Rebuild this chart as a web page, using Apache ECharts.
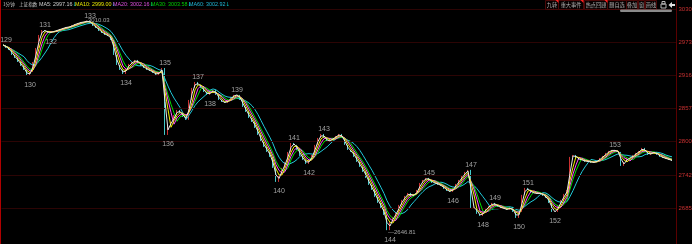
<!DOCTYPE html>
<html><head><meta charset="utf-8">
<script src="https://cdn.jsdelivr.net/npm/echarts@6/dist/echarts.min.js"></script>
<style>html,body{margin:0;padding:0;background:#000;}#c{width:692px;height:244px;}</style>
</head><body><div id="c"></div>
<script>
// ---- data ----
const closes = [
2967.7,2962.5,2959.0,2950.3,2945.1,2938.2,2931.3,2924.4,2914.0,2920.9,
2938.2,2962.5,2985.0,2993.6,2991.9,2988.4,2990.2,2991.9,2993.6,2995.4,
2997.1,2998.8,2998.8,3002.3,3004.0,3005.8,3007.5,3007.5,3010.0,3005.8,
3000.6,2997.1,2991.9,2988.4,2985.0,2983.2,2976.3,2950.3,2933.0,2924.4,
2917.4,2927.8,2934.8,2938.2,2941.7,2936.5,2931.3,2927.8,2924.4,2922.6,
2919.2,2915.7,2920.9,2927.8,2811.8,2829.1,2834.3,2846.4,2855.1,2849.9,
2843.0,2837.8,2872.4,2893.2,2903.6,2898.4,2893.2,2886.3,2881.1,2886.3,
2889.7,2881.1,2872.4,2868.9,2867.2,2872.4,2877.6,2881.1,2881.1,2872.4,
2860.3,2851.6,2841.2,2834.3,2823.9,2811.8,2799.7,2791.0,2782.3,2773.7,
2754.6,2730.4,2742.5,2754.6,2765.0,2782.3,2797.9,2794.5,2785.8,2775.4,
2768.5,2761.6,2768.5,2777.1,2794.5,2806.6,2813.5,2806.6,2799.7,2803.1,
2806.6,2810.0,2813.5,2806.6,2794.5,2785.8,2782.3,2773.7,2765.0,2756.4,
2747.7,2737.3,2725.2,2716.5,2704.4,2694.0,2685.3,2673.2,2646.8,2661.1,
2669.8,2678.4,2690.5,2699.2,2706.1,2711.3,2706.1,2707.9,2716.5,2728.6,
2733.8,2737.3,2733.8,2728.6,2728.6,2725.2,2723.4,2718.3,2714.8,2713.1,
2720.0,2726.9,2733.8,2740.8,2747.7,2751.2,2685.3,2687.1,2675.0,2671.5,
2678.4,2685.3,2688.8,2694.0,2690.5,2687.1,2685.3,2683.6,2681.9,2687.1,
2678.4,2668.0,2678.4,2707.9,2720.0,2716.5,2711.3,2711.3,2709.6,2711.3,
2706.1,2702.7,2694.0,2678.4,2678.4,2690.5,2699.2,2709.6,2716.5,2773.7,
2777.1,2771.9,2768.5,2768.5,2765.0,2766.7,2763.3,2765.0,2766.7,2771.9,
2775.4,2780.6,2784.1,2785.8,2784.1,2782.3,2758.1,2765.0,2771.9,2771.9,
2777.1,2780.6,2784.1,2789.3,2782.3,2777.1,2780.6,2782.3,2777.1,2773.7,
2771.9,2770.2,2768.5,2766.7
];
const categories = closes.map((_, i) => String(i)).concat(['']);
const waveNames = ['129','130','131','132','133','134','135','136','137','138','139','140','141','142','143','144','145','146','147','148','149','150','151','152','153'];
const waveIdx   = [0,8,13,15,28,40,53,54,64,68,77,91,96,101,106,128,141,149,155,159,163,171,174,183,203];
const extremeIdx  = [28, 128];
const extremeText = ['3010.03', '—2646.81'];
const tickValues = [3030, 2972.5, 2915, 2857.5, 2800, 2742.5, 2685];
const tickLabels = ['3030','2973','2916','2857','2800','2742','2685'];
const curPrice = 2836;
const curLabel = '2836';
const maNames   = ['MA5','MA10','MA20','MA30','MA60'];
const maValues  = ['2997.16','2999.00','3002.16','3003.58','3002.92'];
const maWindows = [2,3,4,5,8];
const buttons = ['九转','重大事件','热点回顾','删自选','叠加','窗','画线'];

// ---- derived ----
const candles = closes.map((c, i) => {
  const o = i === 0 ? c : closes[i - 1];
  return [o, c, Math.min(o, c), Math.max(o, c)];
});
function ma(arr, w) {
  return arr.map((v, i) => {
    const s = arr.slice(Math.max(0, i - w + 1), i + 1);
    return +(s.reduce((a, b) => a + b, 0) / s.length).toFixed(2);
  });
}
const maColors = ['#e8e8e8', '#f0f000', '#ff50ff', '#00e000', '#20c8d8'];
const headColors = ['#d0d0d0', '#e8e800', '#e050e0', '#00d000', '#20b8d8'];

const chart = echarts.init(document.getElementById('c'), null, {renderer: 'canvas'});

const maSeries = [];
for (let k = maNames.length - 1; k >= 0; k--) {
  maSeries.push({
    type: 'line', name: maNames[k], data: ma(closes, maWindows[k]),
    showSymbol: false, symbol: 'none', z: 3 + (maNames.length - k),
    lineStyle: {width: 1, color: maColors[k]}, silent: true
  });
}

const waveData = waveIdx.map((ix, j) => ({
  value: [ix, closes[ix]],
  label: {
    formatter: waveNames[j],
    position: j % 2 === 0 ? 'top' : 'bottom',
    distance: j % 2 === 0 ? 1 : 6,
    offset: [3, 0]
  }
}));
const extremeData = extremeIdx.map((ix, j) => ({
  value: [ix, closes[ix]],
  label: {formatter: extremeText[j], position: 'right', distance: 1, offset: [0, j === 0 ? 0 : 2]}
}));

const markData = tickValues.map((v, i) => ({
  yAxis: v,
  label: {formatter: tickLabels[i]}
}));
markData.push({
  yAxis: curPrice,
  lineStyle: {opacity: 0},
  label: {formatter: curLabel, backgroundColor: '#5a2e96', color: '#ffb0b0', padding: [1, 2, 0, 1], distance: 0}
});

// header graphic
const headX = [39, 75, 113, 151, 189];
const graphics = [
  {type: 'rect', shape: {x: 0, y: 0, width: 1, height: 244}, style: {fill: '#b00000'}, z: 100},
  {type: 'rect', shape: {x: 676, y: 0, width: 1, height: 244}, style: {fill: '#5a0000'}, z: 100},
  {type: 'text', x: 3, y: 2, style: {text: '1分钟', fill: '#c8c8c8', font: '4.6px "Noto Sans CJK SC"'}, z: 100},
  {type: 'text', x: 19, y: 2, style: {text: '上证指数', fill: '#c8c8c8', font: '4.6px "Noto Sans CJK SC"'}, z: 100}
];
maNames.forEach((n, k) => {
  graphics.push({
    type: 'text', x: headX[k], y: 2, z: 100,
    style: {
      text: '{v|' + n + ': ' + maValues[k] + '}{a|↓}',
      rich: {
        v: {fill: headColors[k], font: '5.4px "Liberation Sans"'},
        a: {fill: '#00c0c0', font: '5.4px "DejaVu Sans"'}
      }
    }
  });
});
const btnX = [545, 558, 584, 607, 626, 638, 645];
const btnW = [13, 25, 23, 19, 11, 6, 11];
buttons.forEach((b, k) => {
  graphics.push({type: 'rect', shape: {x: btnX[k] + 0.5, y: 0.5, width: btnW[k], height: 9}, style: {fill: '#080000', stroke: '#4a0808', lineWidth: 1}, z: 100});
  graphics.push({type: 'text', x: btnX[k] + btnW[k] / 2 + 0.5, y: 5, style: {text: b, fill: '#b0b0b0', font: '5.2px "Noto Sans CJK SC"', align: 'center', verticalAlign: 'middle'}, z: 101});
  if (k < 3) graphics.push({type: 'polygon', shape: {points: [[btnX[k] + btnW[k] - 2.5, 0], [btnX[k] + btnW[k] + 0.5, 0], [btnX[k] + btnW[k] + 0.5, 3]]}, style: {fill: '#ff2020'}, z: 102});
});
graphics.push(
  {type: 'rect', shape: {x: 661, y: 4, width: 5, height: 4}, style: {fill: 'none', stroke: '#b8b8b8', lineWidth: 1}, z: 100},
  {type: 'rect', shape: {x: 662, y: 1.5, width: 3, height: 2.5}, style: {fill: 'none', stroke: '#b8b8b8', lineWidth: 1}, z: 100},
  {type: 'polygon', shape: {points: [[668.5, 5], [672, 2], [672, 8]]}, style: {fill: '#e0e0e0'}, z: 100},
  {type: 'rect', shape: {x: 672, y: 4, width: 3, height: 2}, style: {fill: '#e0e0e0'}, z: 100},
  {type: 'rect', shape: {x: 620, y: 9.5, width: 52, height: 2.5, r: 1.2}, style: {fill: '#8a8a8a'}, z: 100}
);

chart.setOption({
  backgroundColor: '#000',
  animation: false,
  grid: {left: 1.5, right: 15.5, top: 0, bottom: 3},
  xAxis: {type: 'category', data: categories, boundaryGap: true, show: false},
  yAxis: {type: 'value', position: 'right', min: 2628, max: 3045.6, show: false},
  graphic: graphics,
  series: [
    {
      type: 'candlestick', data: candles, barMaxWidth: 1, z: 2, silent: true,
      itemStyle: {color: '#ff3c3c', color0: '#54fcfc', borderColor: '#ff3c3c', borderColor0: '#54fcfc', borderWidth: 0.8},
      markLine: {
        silent: true, symbol: 'none', animation: false,
        lineStyle: {color: '#2c0404', type: 'solid', width: 1},
        label: {position: 'end', color: '#c83030', fontSize: 6, fontFamily: 'Liberation Sans', distance: 2},
        data: markData
      }
    }
  ].concat(maSeries).concat([
    {
      type: 'scatter', data: waveData, symbolSize: 0, z: 20, silent: true,
      label: {show: true, color: '#c8c8c8', fontSize: 7, fontFamily: 'Liberation Sans'}
    },
    {
      type: 'scatter', data: extremeData, symbolSize: 0, z: 21, silent: true,
      label: {show: true, color: '#c8c8c8', fontSize: 6, fontFamily: 'Liberation Sans'}
    }
  ])
});
</script></body></html>
